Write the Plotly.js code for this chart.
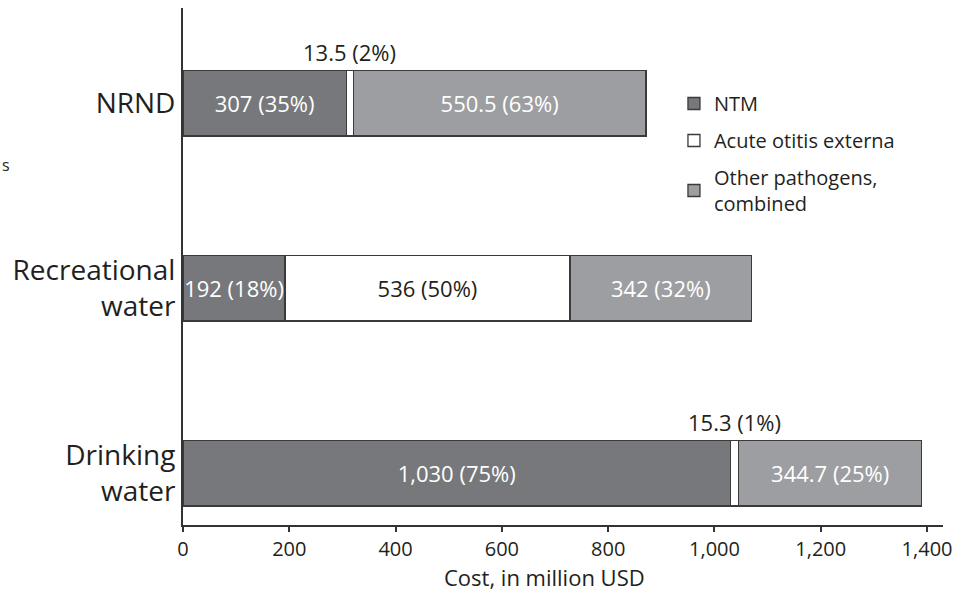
<!DOCTYPE html>
<html>
<head>
<meta charset="utf-8">
<script src="https://cdn.plot.ly/plotly-3.0.1.min.js"></script>
<style>html,body{margin:0;padding:0;background:#fff}#chart{width:973px;height:593px}</style>
</head>
<body>
<div id="chart"></div>
<script>
// Categories bottom-to-top
var categories = ["Drinking<br>water", "Recreational<br>water", "NRND"];
var seriesNames = ["NTM", "Acute otitis externa", "Other pathogens,<br>combined"];
var ntmValues = [1030, 192, 307];
var ntmPct = [75, 18, 35];
var aoeValues = [15.3, 536, 13.5];
var aoePct = [1, 50, 2];
var otherValues = [344.7, 342, 550.5];
var otherPct = [25, 32, 63];
var xTickVals = [0, 200, 400, 600, 800, 1000, 1200, 1400];
var xTickText = ["0", "200", "400", "600", "800", "1,000", "1,200", "1,400"];

function fmt(v) {
  return v.toLocaleString("en-US", {maximumFractionDigits: 1});
}
function lbl(v, p) { return fmt(v) + " (" + p + "%)"; }

var FONT = "Open Sans, Liberation Sans, sans-serif";
var ink = "#231f20";
var edge = "#3a3a3a";

var ntmText = ntmValues.map(function(v, i){ return lbl(v, ntmPct[i]); });
var aoeText = aoeValues.map(function(v, i){ return v > 100 ? lbl(v, aoePct[i]) : ""; });
var otherText = otherValues.map(function(v, i){ return lbl(v, otherPct[i]); });

var common = {
  type: "bar", orientation: "h", y: categories, width: 0.352,
  textposition: "inside", insidetextanchor: "middle", constraintext: "none",
  hoverinfo: "skip"
};

var traces = [
  Object.assign({}, common, {
    name: seriesNames[0], legendgroup: "g0", x: ntmValues, text: ntmText,
    marker: {color: "#77787b", line: {color: edge, width: 1.3}},
    textfont: {family: FONT, size: 22, color: "#ffffff"}
  }),
  Object.assign({}, common, {
    name: seriesNames[1], legendgroup: "g1", x: aoeValues, text: aoeText,
    marker: {color: "#ffffff", line: {color: edge, width: 1.3}},
    textfont: {family: FONT, size: 22, color: ink}
  }),
  Object.assign({}, common, {
    name: seriesNames[2], legendgroup: "g2", x: otherValues, text: otherText,
    marker: {color: "#9d9ea1", line: {color: edge, width: 1.3}},
    textfont: {family: FONT, size: 22, color: "#ffffff"}
  })
];

var PLOT_H = 593 - 8 - 68;
var annotations = [];
aoeValues.forEach(function(v, i){
  if (v <= 100) {
    annotations.push({
      x: ntmValues[i] + v / 2, y: categories[i], xref: "x", yref: "y",
      text: lbl(v, aoePct[i]), showarrow: false, yshift: 51,
      font: {family: FONT, size: 22, color: ink}
    });
  }
});
annotations.push({
  x: 0.476, y: -68 / PLOT_H, xref: "paper", yref: "paper", yanchor: "bottom",
  text: "Cost, in million USD", showarrow: false, borderpad: 0,
  font: {family: FONT, size: 22, color: ink}
});
annotations.push({
  x: -183 / 760, y: (525 - 165) / PLOT_H, xref: "paper", yref: "paper",
  xanchor: "left", yanchor: "middle",
  text: "s", showarrow: false, font: {family: FONT, size: 16, color: ink}
});

var layout = {
  width: 973, height: 593,
  margin: {l: 183, r: 30, t: 8, b: 68},
  paper_bgcolor: "#ffffff", plot_bgcolor: "#ffffff",
  barmode: "stack",
  showlegend: true,
  legend: {
    x: 0.646, y: (525 - 84) / PLOT_H, xanchor: "left", yanchor: "top",
    traceorder: "grouped", tracegroupgap: 8,
    font: {family: FONT, size: 20, color: ink},
    bgcolor: "rgba(0,0,0,0)"
  },
  xaxis: {
    range: [0, 1430], tickvals: xTickVals, ticktext: xTickText,
    showline: true, linecolor: "#333", linewidth: 2,
    ticks: "outside", ticklen: 5, tickwidth: 2, tickcolor: "#333",
    showgrid: false, zeroline: false,
    tickfont: {family: FONT, size: 20, color: ink}
  },
  yaxis: {
    type: "category", range: [-0.279, 2.515],
    showline: true, linecolor: "#333", linewidth: 2,
    ticks: "", showgrid: false, zeroline: false,
    tickfont: {family: FONT, size: 28, color: ink}
  },
  annotations: annotations
};

Plotly.newPlot("chart", traces, layout, {displayModeBar: false, staticPlot: true});
</script>
</body>
</html>
